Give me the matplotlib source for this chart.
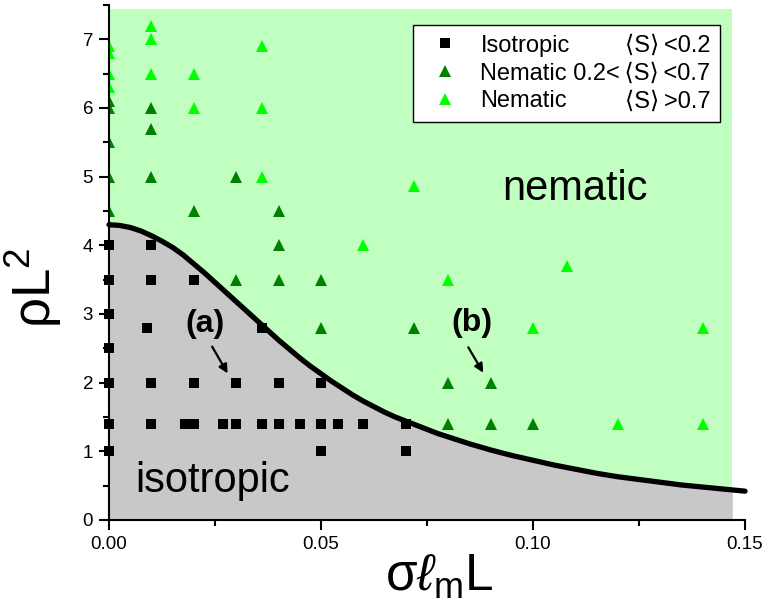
import numpy as np
import matplotlib
matplotlib.use('Agg')
import matplotlib.pyplot as plt
from matplotlib.lines import Line2D
from matplotlib.ticker import FixedLocator, MultipleLocator

plt.rcParams['font.family'] = ['Liberation Sans', 'DejaVu Sans']
plt.rcParams['mathtext.fontset'] = 'custom'
plt.rcParams['mathtext.rm'] = 'Liberation Sans'
plt.rcParams['mathtext.it'] = 'Liberation Sans:italic'
plt.rcParams['mathtext.bf'] = 'Liberation Sans:bold'

# ---------------- data ----------------
iso_x = [0, 0, 0, 0, 0, 0, 0,
         0.01, 0.01, 0.01, 0.01, 0.009,
         0.02, 0.02, 0.02, 0.018,
         0.027, 0.03, 0.03,
         0.036, 0.036,
         0.04, 0.04,
         0.045,
         0.05, 0.05, 0.05,
         0.054, 0.06,
         0.07, 0.07]
iso_y = [4.0, 3.5, 3.0, 2.5, 2.0, 1.4, 1.0,
         4.0, 3.5, 2.0, 1.4, 2.8,
         3.5, 2.0, 1.4, 1.4,
         1.4, 2.0, 1.4,
         2.8, 1.4,
         2.0, 1.4,
         1.4,
         2.0, 1.4, 1.0,
         1.4, 1.4,
         1.4, 1.0]

mid_x = [0, 0, 0, 0, 0,
         0.01, 0.01, 0.01,
         0.02,
         0.03, 0.03,
         0.04, 0.04, 0.04,
         0.05, 0.05,
         0.072,
         0.08, 0.08,
         0.09, 0.09,
         0.10]
mid_y = [6.1, 6.0, 5.5, 5.0, 4.5,
         6.0, 5.7, 5.0,
         4.5,
         5.0, 3.5,
         4.5, 4.0, 3.5,
         3.5, 2.8,
         2.8,
         2.0, 1.4,
         2.0, 1.4,
         1.4]

high_x = [0, 0, 0, 0,
          0.01, 0.01, 0.01,
          0.02, 0.02,
          0.036, 0.036, 0.036,
          0.06, 0.072, 0.08, 0.10, 0.108, 0.12,
          0.14, 0.14]
high_y = [6.9, 6.8, 6.5, 6.3,
          7.2, 7.0, 6.5,
          6.5, 6.0,
          6.9, 6.0, 5.0,
          4.0, 4.87, 3.5, 2.8, 3.7, 1.4,
          2.8, 1.4]

# phase boundary
curve_x = [0.0, 0.0025, 0.005, 0.0075, 0.01, 0.0125, 0.015, 0.0175, 0.02,
           0.0225, 0.025, 0.0275, 0.03, 0.0325, 0.035, 0.0375, 0.04, 0.0425,
           0.045, 0.0475, 0.05, 0.0525, 0.055, 0.0575, 0.06, 0.0625, 0.065,
           0.0675, 0.07, 0.0725, 0.075, 0.0775, 0.08, 0.085, 0.09, 0.095,
           0.10, 0.105, 0.11, 0.115, 0.12, 0.125, 0.13, 0.135, 0.14, 0.145,
           0.15]
curve_y = [4.30, 4.29, 4.26, 4.21, 4.14, 4.06, 3.97, 3.86, 3.73,
           3.60, 3.46, 3.32, 3.18, 3.04, 2.90, 2.76, 2.62, 2.49,
           2.36, 2.24, 2.13, 2.02, 1.92, 1.82, 1.73, 1.65, 1.57,
           1.50, 1.44, 1.38, 1.32, 1.26, 1.21, 1.11, 1.02, 0.94,
           0.87, 0.80, 0.74, 0.68, 0.63, 0.59, 0.55, 0.51, 0.48, 0.45,
           0.42]

TS = '\u2009'
legend_labels = ['Isotropic', 'Nematic 0.2<' + TS + '\u27e8S\u27e9' + TS + '<0.7', 'Nematic']
legend_right = ['\u27e8S\u27e9' + TS + '<0.2', None, '\u27e8S\u27e9' + TS + '>0.7']

x_ticks = [0.0, 0.05, 0.10, 0.15]
x_ticklabels = ['0.00', '0.05', '0.10', '0.15']
y_ticks = [0, 1, 2, 3, 4, 5, 6, 7]
y_ticklabels = ['0', '1', '2', '3', '4', '5', '6', '7']

region_xmax = 0.147
region_ymax = 7.44

# ---------------- figure ----------------
fig = plt.figure(figsize=(7.67, 6.02), dpi=100)
ax = fig.add_axes([109 / 767, 1 - 520 / 602, (745 - 109) / 767, (520 - 5) / 602])

ax.set_xlim(0, 0.15)
ax.set_ylim(0, 7.5)

# shaded regions
cx = np.array(curve_x)
cy = np.array(curve_y)
mask = cx < region_xmax
fx = np.append(cx[mask], region_xmax)
fy = np.append(cy[mask], np.interp(region_xmax, cx, cy))
ax.fill_between([0, region_xmax], 0, region_ymax, color='#c0ffc0', lw=0, zorder=0)
ax.fill_between(fx, 0, fy, color='#c8c8c8', lw=0, zorder=1)

green_dark = '#008000'
green_light = '#00ff00'

ax.plot(iso_x, iso_y, 's', color='black', ms=7, mec='black', mew=0, zorder=3, clip_on=False)
ax.plot(mid_x, mid_y, '^', color=green_dark, ms=9, mew=0, zorder=3)
ax.plot(high_x, high_y, '^', color=green_light, ms=9, mew=0, zorder=3)

ax.plot(curve_x, curve_y, color='black', lw=3.8, solid_capstyle='round',
        solid_joinstyle='round', zorder=4, clip_on=False)

# annotations
ax.text(0.0227, 2.85, '(a)', fontsize=23, fontweight='bold', ha='center', va='center', zorder=5)
ax.annotate('', xy=(0.0283, 2.10), xytext=(0.0240, 2.56),
            arrowprops=dict(arrowstyle='-|>', color='black', lw=1.6, mutation_scale=13), zorder=5)
ax.text(0.0857, 2.87, '(b)', fontsize=23, fontweight='bold', ha='center', va='center', zorder=5)
ax.annotate('', xy=(0.0886, 2.11), xytext=(0.0844, 2.55),
            arrowprops=dict(arrowstyle='-|>', color='black', lw=1.6, mutation_scale=13), zorder=5)

ax.text(0.0928, 4.66, 'nematic', fontsize=30, ha='left', va='baseline', zorder=5)
ax.text(0.0061, 0.41, 'isotropic', fontsize=30, ha='left', va='baseline', zorder=5)

# axes styling
for s in ['top', 'right']:
    ax.spines[s].set_visible(False)
for s in ['left', 'bottom']:
    ax.spines[s].set_linewidth(1.5)
    ax.spines[s].set_zorder(6)

ax.xaxis.set_major_locator(FixedLocator(x_ticks))
ax.set_xticklabels(x_ticklabels)
ax.xaxis.set_minor_locator(MultipleLocator(0.025))
ax.yaxis.set_major_locator(FixedLocator(y_ticks))
ax.set_yticklabels(y_ticklabels)
ax.yaxis.set_minor_locator(MultipleLocator(0.5))
ax.tick_params(which='major', direction='out', length=7.5, width=1.5, labelsize=13.5, pad=4)
ax.tick_params(which='minor', direction='out', length=4, width=1.5)

ax.set_xlabel(r'$\mathrm{\sigma}\ell_{\mathrm{m}}\mathrm{L}$', fontsize=37)
ax.xaxis.set_label_coords(0.52, -0.063)
ax.set_ylabel(r'$\mathrm{\rho L}^{\mathrm{2}}$', fontsize=38)
ax.yaxis.set_label_coords(-0.07, 0.45)

# legend
handles = [
    Line2D([], [], ls='none', marker='s', color='black', ms=7, mew=0),
    Line2D([], [], ls='none', marker='^', color=green_dark, ms=9, mew=0),
    Line2D([], [], ls='none', marker='^', color=green_light, ms=9, mew=0),
]
leg = ax.legend(handles, legend_labels, loc='upper right', bbox_to_anchor=(0.9607, 0.961),
                fontsize=17, frameon=True, fancybox=False, framealpha=1, edgecolor='black',
                handlelength=1.9, handletextpad=0.55, borderpad=0.4, labelspacing=0.25,
                borderaxespad=0)
leg.get_frame().set_linewidth(1.0)
leg.set_zorder(10)

fig.canvas.draw()
renderer = fig.canvas.get_renderer()
texts = leg.get_texts()
right_edge = texts[1].get_window_extent(renderer).x1
for t, extra in zip(texts, legend_right):
    if extra is None:
        continue
    bx, by = t.get_transform().transform(t.get_position())
    fxy = fig.transFigure.inverted().transform((right_edge, by))
    fig.text(fxy[0], fxy[1], extra, fontsize=17, ha='right', va='baseline', zorder=11)

fig.savefig('out.png', dpi=100)
